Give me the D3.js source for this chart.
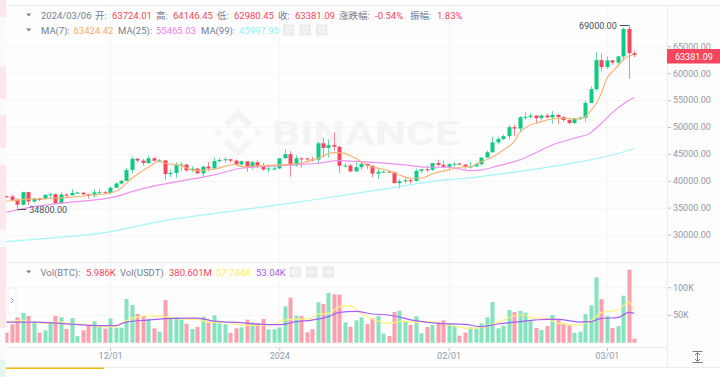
<!DOCTYPE html>
<html>
<head>
<meta charset="utf-8">
<script src="https://cdn.jsdelivr.net/npm/d3@7/dist/d3.min.js"></script>
<style>
	html, body { margin: 0; padding: 0; background: #fff; overflow: hidden; }
	svg { display: block; font-family: Roboto, "Noto Sans CJK SC", sans-serif; }
</style>
</head>
<body>
<svg id="chart" width="720" height="377"></svg>
<script>
// daily candles, 2023-11-12 .. 2024-03-06
var firstDay = new Date(Date.UTC(2023, 10, 12));
var opens = [37139,37064,36462,35551,37880,36154,36596,36585,37386,37476,35813,37432,37289,37720,37796,37479,37254,37831,37858,37712,38688,39476,39978,41980,44080,43746,43292,44180,43720,43792,41243,41450,42890,43023,41929,42240,41364,42623,42270,43652,43869,43997,43739,43016,43613,42520,43442,42627,42099,42282,42283,44179,44946,42845,44151,44145,43968,43929,46951,46110,46632,46314,42782,42842,41732,42511,43137,42776,41327,41659,41696,41580,39568,39897,40084,39961,41823,42120,42035,43288,42952,42582,43075,43185,42992,42583,42658,43084,44318,45301,47132,47751,48293,49958,49699,51795,51880,52124,51642,52137,51774,52258,51849,51288,50744,51568,51728,54476,57037,62432,61130,62387,61987,63113,68245,63724.01];
var highs = [37228,37430,36744,37980,37930,36845,36850,37500,37750,37650,37860,37650,38420,37890,37840,37590,38400,38450,38150,38999,39700,40250,42400,44490,44300,44050,44700,44370,44040,43810,42100,43430,43420,43080,42700,42420,42760,43490,44280,44240,44360,44015,43950,43800,43600,43680,43800,43310,42600,42900,44180,45880,45500,44730,44350,44200,44480,47250,47970,47700,49000,46500,43260,43080,43400,43570,43200,42930,42200,41870,41900,41690,40280,40550,40350,42250,42200,42840,43300,43880,43750,43280,43420,43380,43120,43530,43400,44380,45600,48200,48170,48590,50330,50370,52040,52800,52570,52160,52350,52480,52980,52370,52000,51540,51680,51950,54900,57580,63930,63680,63110,62430,63230,68499,69000,64146.45];
var lows = [36800,36340,34800,35360,35500,35875,36200,36390,36700,35630,35670,36870,37280,37600,37150,36700,36860,37600,37500,37620,38650,39300,39980,41420,43335,42820,43080,43580,43560,40220,40680,40560,41800,41670,41600,41250,40530,41800,42150,43330,43400,43350,42760,42720,41640,42100,42300,41820,41520,41965,42180,44150,40750,42630,42450,43400,43560,43200,44300,44300,45600,41500,42440,41720,41700,42050,42200,40683,40280,41450,41500,39500,38555,39490,39500,39825,41400,41620,41800,42680,42280,41880,42570,42880,42250,42260,42570,42780,44330,45240,46800,47560,47700,48300,49250,51300,51600,50600,51200,51700,50620,50620,50930,50520,50585,51280,50900,54450,56690,60360,60780,61600,61320,62300,59005,62980.45];
var closes = [37064,36462,35551,37880,36154,36596,36585,37386,37476,35813,37432,37289,37720,37796,37479,37254,37831,37858,37712,38688,39476,39978,41980,44080,43746,43292,44180,43720,43792,41243,41450,42890,43023,41929,42240,41364,42623,42270,43652,43869,43997,43739,43016,43613,42520,43442,42627,42099,42282,42283,44179,44946,42845,44151,44145,43968,43929,46951,46110,46632,46314,42782,42842,41732,42511,43137,42776,41327,41659,41696,41580,39568,39897,40084,39961,41823,42120,42035,43288,42952,42582,43075,43185,42992,42583,42658,43084,44318,45301,47132,47751,48293,49958,49699,51795,51880,52124,51642,52137,51774,52258,51849,51288,50744,51568,51728,54476,57037,62432,61130,62387,61987,63113,68245,63724.01,63381.09];
// BTC, thousands
var volumes = [18.1,33.1,45.8,53.6,48.2,37.9,18.1,22.3,37.3,48.2,45.8,24.7,44.5,12,22.3,30.7,38.5,30.7,25.3,43.9,27.1,27.1,78.9,68,51.8,48.2,43.3,25.9,19.9,77.1,43.9,46.4,42.1,34.3,24.7,28.3,47,38.5,49.4,34.9,33.1,17.5,25.9,27.7,41.5,36.7,35.5,42.7,24.1,24.1,27.7,65.6,81.3,48.8,48.2,18.7,24.1,72.8,69.8,89.7,87.3,86.7,36.7,28.9,40.3,45.8,33.7,44.5,48.2,16.3,12,55.4,57.8,38.5,31.9,47.6,16.9,28.3,31.9,37.3,40.3,33.7,30.7,12.6,18.1,27.7,25.3,34.9,45.8,73.4,25.9,30.7,59,55.4,57.2,54.2,39.1,26.5,22.9,30.1,50,42.1,34.9,31.3,17.5,19.9,51.8,67.4,118,78.9,48.2,26.5,30.1,84.9,131.8,7.2];

// moving averages (candle index, value)
var ma7Index = [0,5,9,13,16,19,21,23,26,28,29,32,34,35,38,42,43,46,50,54,57,60,61,64,66,69,70,72,74,76,78,81,83,85,87,89,91,93,94,95,98,100,102,105,106,107,108,109,110,111,112,113,114,115];
var ma7Values = [36185,36613,36743,37040,37357,37673,38602,40461,42506,43547,43250,42804,42004,41874,42134,43064,42618,42748,42934,43250,44179,45220,45220,44179,42934,42134,41874,41075,40461,40461,41261,42004,42506,42618,43547,44365,45722,47265,48882,49812,50983,51485,51615,51485,51913,52972,54274,56318,59051,60278,61338,62453,63141,63424.42];
var ma25Index = [0,5,11,20,23,28,33,38,43,49,57,61,65,68,73,77,81,83,85,87,90,94,98,100,104,107,109,111,113,115];
var ma25Values = [34141,35182,35925,37040,37970,39216,40145,41075,42320,42748,43250,43733,43547,43361,42934,42506,42506,42190,41874,42004,42748,43863,45722,46652,47897,48938,50686,52656,54274,55465.03];
var ma99Index = [0,9,18,28,43,57,72,79,83,89,95,101,106,111,115];
var ma99Values = [28675,29419,30348,32393,34568,36557,38900,40015,40331,41075,41874,42804,43677,44793,45997.95];
var volMa7Index = [0,3,4,7,10,12,15,17,20,21,23,26,29,33,35,37,40,43,45,49,51,56,57,59,61,63,65,70,73,75,77,81,85,87,90,94,95,96,99,101,105,107,109,112,114,115];
var volMa7Values = [36.1,40.9,37.9,34.9,37.3,33.7,32.5,28.9,28.9,34.9,43.9,48.8,47,42.1,42.1,36.7,36.7,31.9,31.3,33.1,40.9,43.9,51.8,53,65,66.8,53,34.9,39.1,36.7,38.5,31.9,25.9,27.1,36.7,50,50,45.2,43.9,34.9,31.9,39.1,54.2,59,73.4,57.74];
var volMa25Index = [0,5,10,17,20,22,26,29,33,35,38,43,46,50,53,56,59,61,64,67,70,75,79,84,87,90,94,99,101,105,107,109,112,114,115];
var volMa25Values = [37.3,37.3,34.9,30.7,30.7,37.3,40.9,43.3,44.5,44.5,39.1,36.1,33.7,32.5,37.9,40.9,47,54.8,56.6,51.8,50,39.7,34.9,33.1,28.9,33.7,37.9,42.1,42.1,37.3,37.9,43.9,45.2,54.8,53.04];

var priceTicks = [65000,60000,55000,50000,45000,40000,35000,30000];
var volumeTicks = [100,50];
var dateTicks = [new Date(Date.UTC(2023,11,1)), new Date(Date.UTC(2024,0,1)), new Date(Date.UTC(2024,1,1)), new Date(Date.UTC(2024,2,1))];
var dateLabels = ["12/01","2024","02/01","03/01"];

var colors = {
	up: "#0ecb81", down: "#f6465d",
	ma7: "#f5b577", ma25: "#f08ff0", ma99: "#a5f5f5",
	vol7: "#fff27a", vol25: "#a65ff0",
	label: "#76808f", axis: "#929aa5", grid: "#f6f6f6", line: "#ececec"
};

var svg = d3.select("#chart");
var width = 720, height = 377, axisX = 667;
var panel = { left: 6, priceTop: 5, split: 262.5, dateLine: 347, bottom: 367 };

var x = d3.scaleUtc()
	.domain([firstDay, d3.utcDay.offset(firstDay, closes.length - 1)])
	.range([6.3, 634.2]);
var y = d3.scaleLinear().domain([30000, 65000]).range([234.5, 46.3]);
var yVol = d3.scaleLinear().domain([0, 100]).range([342.7, 287.3]);

function dayOf(i) {
	return d3.utcDay.offset(firstDay, i);
}
function px(v) {
	return Math.round(v) + 0.5;
}

svg.append("clipPath").attr("id", "plot").append("rect")
	.attr("x", panel.left - 0.5).attr("y", panel.priceTop).attr("width", axisX - panel.left).attr("height", panel.bottom - panel.priceTop);

// page background and the strip on the far left
svg.append("rect").attr("width", width).attr("height", height).attr("fill", "#fff");
svg.append("rect").attr("x", panel.left).attr("y", panel.priceTop).attr("width", width - panel.left)
	.attr("height", panel.bottom - panel.priceTop).attr("fill", "#fdfdfd");
var stripBands = [[0,17,"#fde8e9"],[17,66,"#fafafa"],[66,99,"#fde8e9"],[99,115,"#fafafa"],[115,148,"#fde8e9"],[148,165,"#fafafa"],[165,230,"#fde8e9"],[230,247,"#fafafa"],[247,328,"#fde8e9"],[328,360,"#fafafa"],[360,377,"#e4f6ef"]];
svg.append("g").selectAll("rect").data(stripBands).enter().append("rect")
	.attr("x", 0).attr("width", panel.left)
	.attr("y", function(d) { return d[0]; })
	.attr("height", function(d) { return d[1] - d[0]; })
	.attr("fill", function(d) { return d[2]; });

// grid
var grid = svg.append("g").attr("stroke", colors.grid).attr("stroke-width", 1);
dateTicks.forEach(function(d) {
	grid.append("line").attr("x1", px(x(d))).attr("x2", px(x(d))).attr("y1", panel.priceTop).attr("y2", panel.dateLine);
});
priceTicks.forEach(function(d) {
	grid.append("line").attr("x1", panel.left).attr("x2", axisX).attr("y1", px(y(d))).attr("y2", px(y(d)));
});
volumeTicks.forEach(function(d) {
	grid.append("line").attr("x1", panel.left).attr("x2", axisX).attr("y1", px(yVol(d))).attr("y2", px(yVol(d)));
});

// watermark
var mark = svg.append("g").attr("fill", "#f4f4f4");
mark.append("text").attr("x", 272).attr("y", 145).attr("font-family", "Roboto")
	.attr("font-weight", 700).attr("font-size", 33).attr("textLength", 188).attr("lengthAdjust", "spacingAndGlyphs").text("BINANCE");
var logo = mark.append("g").attr("transform", "translate(238,133) rotate(45)");
[[-4.5,-4.5,9,9],[-17,11,6,6],[11,-17,6,6]].forEach(function(r) {
	logo.append("rect").attr("x", r[0]).attr("y", r[1]).attr("width", r[2]).attr("height", r[3]);
});
logo.append("path").attr("d", "M-17,-17 H3 V-11 H-11 V3 H-17 Z");
logo.append("path").attr("d", "M17,17 H-3 V11 H11 V-3 H17 Z");

var plot = svg.append("g").attr("clip-path", "url(#plot)");

// candles
var candles = plot.append("g").selectAll("g").data(closes).enter().append("g")
	.attr("fill", function(d, i) { return d < opens[i] ? colors.down : colors.up; });
candles.append("rect")
	.attr("x", function(d, i) { return Math.round(x(dayOf(i))); })
	.attr("width", 1)
	.attr("y", function(d, i) { return y(highs[i]); })
	.attr("height", function(d, i) { return y(lows[i]) - y(highs[i]); })
	.attr("opacity", 0.65);
candles.append("rect")
	.attr("x", function(d, i) { return Math.round(x(dayOf(i))) - 1.5; })
	.attr("width", 4)
	.attr("y", function(d, i) { return y(Math.max(opens[i], d)); })
	.attr("height", function(d, i) { return Math.max(1, Math.abs(y(opens[i]) - y(d))); });

// volume bars
plot.append("g").selectAll("rect").data(volumes).enter().append("rect")
	.attr("x", function(d, i) { return Math.round(x(dayOf(i))) - 1.5; })
	.attr("width", 4)
	.attr("y", function(d) { return yVol(d); })
	.attr("height", function(d) { return yVol(0) - yVol(d); })
	.attr("fill", function(d, i) { return closes[i] < opens[i] ? colors.down : colors.up; })
	.attr("opacity", 0.5);

function drawMa(index, values, scale, color, w) {
	var line = d3.line()
		.x(function(d) { return x(dayOf(d)); })
		.y(function(d, i) { return scale(values[i]); })
		.curve(d3.curveMonotoneX);
	plot.append("path").attr("d", line(index)).attr("fill", "none").attr("stroke", color).attr("stroke-width", w);
}
drawMa(ma99Index, ma99Values, y, colors.ma99, 1.2);
drawMa(ma25Index, ma25Values, y, colors.ma25, 1.2);
drawMa(ma7Index, ma7Values, y, colors.ma7, 1.2);
drawMa(volMa7Index, volMa7Values, yVol, colors.vol7, 1.2);
drawMa(volMa25Index, volMa25Values, yVol, colors.vol25, 1.2);

// high / low callouts
function callout(i, v, dir) {
	var cx = x(dayOf(i)), cy = Math.round(y(v)) + 0.5;
	svg.append("line").attr("x1", cx).attr("x2", cx + dir * 9)
		.attr("y1", cy).attr("y2", cy).attr("stroke", "#474d57");
	svg.append("text").attr("x", cx + dir * 12).attr("y", cy + 3.5)
		.attr("text-anchor", dir > 0 ? "start" : "end")
		.attr("font-size", 9).attr("fill", "#474d57").text(d3.format(".2f")(v));
}
callout(2, d3.min(lows), 1);
callout(114, d3.max(highs), -1);

// axes
var priceAxis = d3.axisRight(y).tickValues(priceTicks).tickSize(4).tickPadding(2).tickFormat(d3.format(".2f"));
var volAxis = d3.axisRight(yVol).tickValues(volumeTicks).tickSize(4).tickPadding(2).tickFormat(function(d) { return d + "K"; });
var dateAxis = d3.axisBottom(x).tickValues(dateTicks).tickSize(4).tickPadding(2)
	.tickFormat(function(d, i) { return dateLabels[i]; });
[[priceAxis, "translate(" + axisX + ",0)"], [volAxis, "translate(" + axisX + ",0)"], [dateAxis, "translate(0," + panel.dateLine + ")"]].forEach(function(a) {
	var g = svg.append("g").attr("transform", a[1]).call(a[0]);
	g.select(".domain").remove();
	g.selectAll("line").attr("stroke", "#b7bdc6");
	g.selectAll("text").attr("fill", colors.axis).attr("font-size", 9).attr("font-family", "Roboto");
});

// frame lines
var frame = svg.append("g").attr("stroke", colors.line);
frame.append("line").attr("x1", axisX + 0.5).attr("x2", axisX + 0.5).attr("y1", panel.priceTop).attr("y2", panel.bottom);
frame.append("line").attr("x1", panel.left).attr("x2", width).attr("y1", panel.priceTop + 0.5).attr("y2", panel.priceTop + 0.5);
frame.append("line").attr("x1", panel.left).attr("x2", width).attr("y1", panel.split).attr("y2", panel.split);
frame.append("line").attr("x1", panel.left).attr("x2", axisX).attr("y1", panel.dateLine + 0.5).attr("y2", panel.dateLine + 0.5);
frame.append("line").attr("x1", panel.left).attr("x2", width).attr("y1", panel.bottom + 0.5).attr("y2", panel.bottom + 0.5);
svg.append("rect").attr("x", panel.left).attr("y", 367.5).attr("width", 98).attr("height", 1.5).attr("fill", "#f0b90b");

// last price tag
svg.append("rect").attr("x", axisX).attr("y", 49).attr("width", 53).attr("height", 14.5).attr("fill", "#f6465d");
svg.append("text").attr("x", 675).attr("y", 59.5).attr("font-size", 9).attr("font-family", "Roboto").attr("fill", "#fff")
	.text(d3.format(".2f")(closes[closes.length - 1]));

// legends
var legendRows = [
	{ y: 15, triangle: 28.7, items: [
		[41, "2024/03/06", colors.label], [95, "开:", colors.label], [112, "63724.01", colors.down],
		[156, "高:", colors.label], [173, "64146.45", colors.down], [217, "低:", colors.label], [234, "62980.45", colors.down],
		[278, "收:", colors.label], [295, "63381.09", colors.down], [339, "涨跌幅:", colors.label], [375, "-0.54%", colors.down],
		[410, "振幅:", colors.label], [437, "1.83%", colors.down]] },
	{ y: 30, triangle: 28.7, icons: [283, 299.5, 316], items: [
		[41, "MA(7):", colors.label], [73.5, "63424.42", "#f5ad66"], [118, "MA(25):", colors.label], [156, "55465.03", "#f27cf2"],
		[201, "MA(99):", colors.label], [239, "45997.95", "#86f5f5"]] },
	{ y: 272, triangle: 28.7, icons: [289.5, 306, 322.5], items: [
		[40.5, "Vol(BTC):", colors.label], [86, "5.986K", colors.down], [120, "Vol(USDT)", colors.label], [169, "380.601M", colors.down],
		[216, "57.744K", "#fff04d"], [256, "53.04K", colors.vol25]] }
];
legendRows.forEach(function(row) {
	svg.append("path").attr("fill", "#76808f")
		.attr("d", "M" + (row.triangle - 2.5) + "," + (row.y - 1.5) + " h5 l-2.5,3 Z");
	row.items.forEach(function(t) {
		svg.append("text").attr("x", t[0]).attr("y", row.y + 3.5).attr("font-size", 9.5).attr("fill", t[2]).text(t[1]);
	});
	(row.icons || []).forEach(function(ix) {
		svg.append("rect").attr("x", ix).attr("y", row.y - 5.5).attr("width", 11.5).attr("height", 11).attr("fill", "#ececec");
		svg.append("circle").attr("cx", ix + 5.7).attr("cy", row.y).attr("r", 2.5).attr("fill", "none").attr("stroke", "#fff");
	});
});

// collapse button and the y-scale icon
svg.append("rect").attr("x", 8).attr("y", 288).attr("width", 8).attr("height", 25).attr("rx", 2).attr("fill", "#fff").attr("stroke", "#f0f0f0");
svg.append("path").attr("d", "M11,298 l2.5,2.5 l-2.5,2.5").attr("fill", "none").attr("stroke", "#929aa5");
var icon = svg.append("g").attr("stroke", "#76808f").attr("fill", "none");
icon.append("path").attr("d", "M692.5,351.5 h10 M692.5,362.5 h10 M697.5,353 v8");
icon.append("path").attr("d", "M695,355 l2.5,-2.5 l2.5,2.5 M695,359 l2.5,2.5 l2.5,-2.5");
</script>
</body>
</html>
